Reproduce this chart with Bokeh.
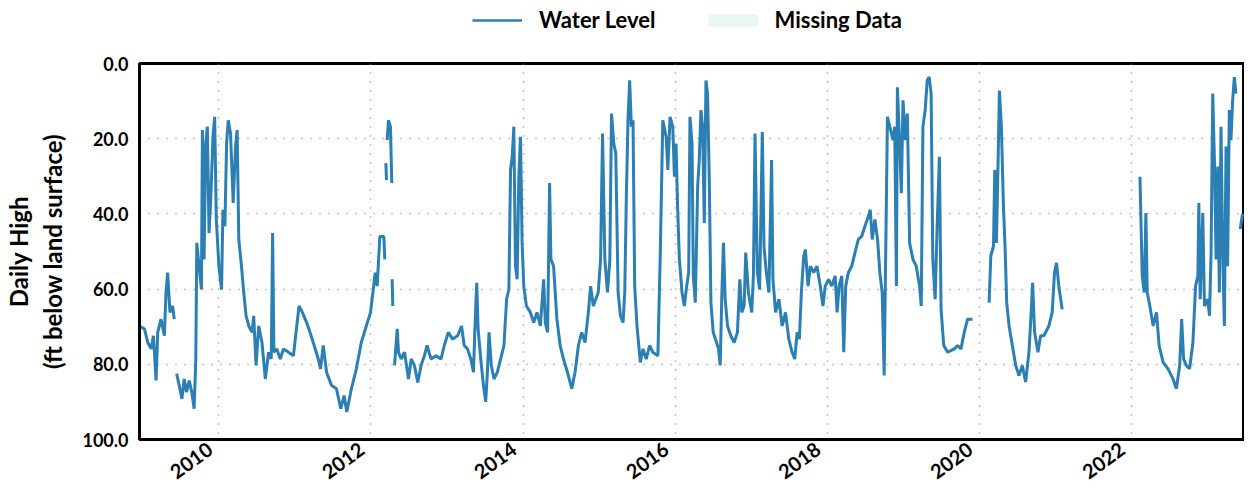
import math
import numpy as np
import pandas as pd
from bokeh.plotting import figure
from bokeh.layouts import column
from bokeh.models import (Range1d, FixedTicker, DatetimeTickFormatter, PrintfTickFormatter,
                          Legend, LegendItem)
from bokeh.embed import file_html
from bokeh.resources import INLINE

NAN = float("nan")

# ---- data (decimal year, ft below land surface) ----
level_year = [
    2008.954, 2009.019, 2009.063, 2009.107, 2009.137, 2009.172, 2009.194, 2009.237, 2009.281, 2009.303,
    2009.324, 2009.355, 2009.390, 2009.411, 2009.425, 2009.442, 2009.477, 2009.512, 2009.542, 2009.573,
    2009.608, 2009.642, 2009.673, 2009.695, 2009.708, 2009.738, 2009.769, 2009.782, 2009.804, 2009.825,
    2009.847, 2009.869, 2009.891, 2009.921, 2009.943, 2009.965, 2009.999, 2010.034, 2010.052, 2010.078,
    2010.100, 2010.122, 2010.152, 2010.187, 2010.218, 2010.239, 2010.261, 2010.296, 2010.326, 2010.357,
    2010.392, 2010.435, 2010.457, 2010.488, 2010.523, 2010.566, 2010.610, 2010.653, 2010.688, 2010.706,
    2010.723, 2010.762, 2010.806, 2010.849, 2010.915, 2010.980, 2011.024, 2011.054, 2011.098, 2011.154,
    2011.198, 2011.241, 2011.307, 2011.337, 2011.372, 2011.416, 2011.481, 2011.546, 2011.603, 2011.647,
    2011.682, 2011.743, 2011.808, 2011.873, 2011.939, 2011.995, 2012.026, 2012.056, 2012.082, 2012.117,
    2012.169, 2012.182, 2012.189, 2012.196, 2012.204, 2012.208, 2012.213, 2012.230, 2012.256, 2012.274,
    2012.276, 2012.278, 2012.287, 2012.298, 2012.310, 2012.345, 2012.362, 2012.397, 2012.441, 2012.493,
    2012.528, 2012.571, 2012.615, 2012.658, 2012.702, 2012.737, 2012.789, 2012.854, 2012.920, 2012.963,
    2013.016, 2013.072, 2013.138, 2013.190, 2013.225, 2013.268, 2013.312, 2013.347, 2013.364, 2013.390,
    2013.408, 2013.443, 2013.478, 2013.508, 2013.530, 2013.552, 2013.582, 2013.617, 2013.661, 2013.704,
    2013.748, 2013.783, 2013.813, 2013.835, 2013.857, 2013.878, 2013.900, 2013.922, 2013.944, 2013.966,
    2013.987, 2014.009, 2014.044, 2014.096, 2014.140, 2014.183, 2014.227, 2014.271, 2014.292, 2014.323,
    2014.349, 2014.366, 2014.401, 2014.423, 2014.445, 2014.488, 2014.532, 2014.584, 2014.641, 2014.684,
    2014.728, 2014.772, 2014.815, 2014.859, 2014.889, 2014.924, 2014.989, 2015.020, 2015.046, 2015.076,
    2015.111, 2015.142, 2015.164, 2015.194, 2015.220, 2015.251, 2015.281, 2015.316, 2015.338, 2015.360,
    2015.382, 2015.403, 2015.425, 2015.447, 2015.469, 2015.499, 2015.543, 2015.578, 2015.621, 2015.665,
    2015.708, 2015.774, 2015.804, 2015.839, 2015.883, 2015.905, 2015.935, 2015.970, 2015.992, 2016.013,
    2016.035, 2016.057, 2016.092, 2016.122, 2016.153, 2016.179, 2016.196, 2016.223, 2016.240, 2016.266,
    2016.297, 2016.318, 2016.340, 2016.362, 2016.384, 2016.406, 2016.427, 2016.449, 2016.471, 2016.501,
    2016.545, 2016.571, 2016.593, 2016.615, 2016.636, 2016.658, 2016.689, 2016.732, 2016.776, 2016.819,
    2016.850, 2016.876, 2016.907, 2016.928, 2016.963, 2017.007, 2017.029, 2017.050, 2017.081, 2017.111,
    2017.146, 2017.168, 2017.199, 2017.233, 2017.268, 2017.286, 2017.321, 2017.364, 2017.408, 2017.451,
    2017.495, 2017.538, 2017.573, 2017.604, 2017.634, 2017.660, 2017.691, 2017.713, 2017.748, 2017.778,
    2017.822, 2017.865, 2017.909, 2017.944, 2017.974, 2018.018, 2018.061, 2018.105, 2018.131, 2018.157,
    2018.192, 2018.218, 2018.244, 2018.279, 2018.323, 2018.366, 2018.410, 2018.453, 2018.497, 2018.541,
    2018.567, 2018.593, 2018.628, 2018.663, 2018.693, 2018.724, 2018.750, 2018.767, 2018.793, 2018.824,
    2018.867, 2018.889, 2018.911, 2018.924, 2018.954, 2018.976, 2018.998, 2019.029, 2019.055, 2019.085,
    2019.129, 2019.172, 2019.216, 2019.238, 2019.260, 2019.290, 2019.316, 2019.342, 2019.368, 2019.390,
    2019.421, 2019.447, 2019.477, 2019.499, 2019.534, 2019.586, 2019.673, 2019.717, 2019.761, 2019.804,
    2019.848, 2019.913, 2020.000, 2020.131, 2020.153, 2020.188, 2020.205, 2020.227, 2020.249, 2020.266,
    2020.292, 2020.319, 2020.340, 2020.362, 2020.393, 2020.436, 2020.480, 2020.523, 2020.567, 2020.610,
    2020.654, 2020.685, 2020.702, 2020.728, 2020.772, 2020.807, 2020.850, 2020.915, 2020.959, 2020.989,
    2021.016, 2021.046, 2021.090, 2021.500, 2022.114, 2022.144, 2022.170, 2022.192, 2022.210, 2022.244,
    2022.288, 2022.332, 2022.366, 2022.419, 2022.484, 2022.549, 2022.593, 2022.637, 2022.663, 2022.689,
    2022.724, 2022.767, 2022.811, 2022.846, 2022.876, 2022.889, 2022.907, 2022.941, 2022.963, 2023.007,
    2023.029, 2023.050, 2023.072, 2023.094, 2023.116, 2023.138, 2023.159, 2023.181, 2023.203, 2023.225,
    2023.247, 2023.268, 2023.290, 2023.312, 2023.334, 2023.356, 2023.377, 2023.405, 2023.434, 2023.464,
]
level_ft = [
    69.8, 70.6, 74.2, 75.9, 72.4, 84.3, 71.5, 68.0, 72.4, 60.9,
    55.6, 66.2, 64.5, 68.0, NAN, 82.5, 85.6, 89.2, 83.9, 87.4,
    84.3, 87.4, 91.8, 78.6, 47.7, 53.9, 60.1, 17.7, 52.1, 21.3,
    16.8, 45.1, 36.2, 19.5, 14.2, 41.5, 53.9, 60.1, 38.9, 43.3,
    21.3, 15.1, 18.6, 37.1, 22.1, 17.7, 46.8, 53.9, 60.9, 67.1,
    69.8, 71.5, 67.1, 80.3, 69.8, 74.2, 83.9, 76.8, 78.6, 45.1,
    76.8, 75.9, 78.6, 75.9, 76.8, 77.7, 69.8, 64.5, 66.2, 68.9,
    71.5, 74.2, 78.6, 81.2, 75.0, 82.1, 85.6, 86.5, 91.8, 88.3,
    92.7, 86.5, 81.2, 74.2, 69.8, 66.2, 60.9, 55.6, 59.2, 46.0,
    46.0, 52.1, NAN, 26.5, 31.0, NAN, 20.4, 15.1, 16.8, 31.8,
    NAN, 57.4, 64.5, NAN, 80.3, 70.6, 76.8, 78.6, 76.8, 83.9,
    78.6, 80.3, 84.8, 80.3, 77.7, 75.0, 78.6, 77.7, 78.6, 75.0,
    71.5, 73.3, 72.4, 69.8, 75.0, 75.9, 78.6, 82.1, 71.5, 58.3,
    70.6, 78.6, 85.6, 90.0, 82.1, 71.5, 80.3, 83.9, 82.1, 78.6,
    75.0, 62.7, 60.1, 28.3, 24.8, 16.8, 53.9, 57.4, 30.1, 19.5,
    47.7, 59.2, 64.5, 66.2, 68.9, 66.2, 69.8, 57.4, 68.9, 71.5,
    31.8, 52.1, 53.9, 60.9, 68.0, 75.0, 78.6, 82.1, 86.5, 82.1,
    75.0, 71.5, 74.2, 66.2, 59.2, 64.5, 60.9, 52.1, 18.6, 52.1,
    60.9, 52.1, 13.3, 21.3, 23.9, 60.9, 67.1, 68.9, 60.9, 34.5,
    14.2, 4.5, 16.8, 15.1, 59.2, 69.8, 79.5, 75.9, 78.6, 75.0,
    76.8, 77.7, 52.1, 15.1, 19.5, 28.3, 14.2, 16.8, 30.1, 21.3,
    38.9, 52.1, 60.9, 64.5, 59.2, 55.6, 14.2, 21.3, 56.5, 63.6,
    32.7, 25.7, 12.4, 16.8, 42.4, 4.5, 8.0, 30.1, 63.6, 71.5,
    74.2, 75.9, 80.3, 60.9, 47.7, 62.7, 69.8, 72.4, 74.2, 71.5,
    57.4, 66.2, 64.5, 50.3, 60.9, 66.2, 56.5, 18.6, 55.6, 60.1,
    18.2, 48.6, 55.6, 60.9, 25.7, 57.4, 66.2, 62.7, 69.8, 66.2,
    73.3, 76.8, 78.6, 71.5, 73.3, 60.9, 51.2, 49.5, 59.2, 53.9,
    55.6, 53.9, 59.2, 64.5, 59.2, 57.4, 59.2, 56.5, 66.2, 59.2,
    56.5, 76.8, 59.2, 55.6, 53.9, 50.3, 46.8, 46.0, 43.3, 40.7,
    38.9, 46.8, 41.5, 46.8, 55.6, 60.9, 83.0, 55.6, 14.2, 16.8,
    20.4, 16.8, 59.2, 6.3, 21.3, 34.5, 9.8, 20.4, 13.3, 47.7,
    52.1, 53.9, 59.2, 64.5, 16.8, 12.4, 4.5, 3.6, 8.0, 52.1,
    62.7, 43.3, 24.8, 65.4, 75.0, 76.8, 75.9, 75.0, 75.9, 71.5,
    68.0, 68.0, NAN, 63.6, 51.2, 48.6, 28.3, 47.7, 25.7, 7.2,
    16.8, 38.0, 48.6, 63.6, 69.8, 75.0, 80.3, 83.0, 80.3, 84.7,
    76.8, 65.4, 58.3, 71.5, 76.8, 72.4, 72.4, 69.8, 66.2, 55.6,
    53.0, 59.2, 65.4, NAN, 30.1, 56.5, 60.9, 39.8, 60.9, 64.5,
    69.8, 66.2, 75.0, 79.5, 81.2, 83.9, 86.5, 80.3, 68.0, 78.6,
    80.3, 81.2, 74.2, 59.2, 56.5, 37.1, 62.7, 39.8, 64.5, 62.7,
    67.1, 50.3, 8.0, 25.7, 52.1, 27.4, 60.9, 16.8, 50.3, 69.8,
    22.1, 53.9, 12.4, 20.4, 9.8, 3.6, 8.0, NAN, 44.0, 40.0,
]

series_names = ["Water Level", "Missing Data"]
tick_years = [2010, 2012, 2014, 2016, 2018, 2020, 2022]
y_ticks = [0, 20, 40, 60, 80, 100]
x_window = [2008.954, 2023.49]


def to_dt(y):
    yr = int(math.floor(y))
    a = pd.Timestamp(yr, 1, 1)
    b = pd.Timestamp(yr + 1, 1, 1)
    return a + (b - a) * (y - yr)


dates = [to_dt(v) for v in level_year]
vals = np.array(level_ft, dtype=float)
x_rng = (to_dt(x_window[0]), to_dt(x_window[1]))

FONT = "Lato"
LINE_COLOR = "#2b7fb3"
MISS_COLOR = "#eaf6f3"

# ---------- legend strip (top); its glyphs lie outside its empty y window ----------
leg = figure(width=1244, height=49, x_axis_type="datetime", output_backend="svg",
             toolbar_location=None,
             min_border_left=132, min_border_right=0, min_border_top=0, min_border_bottom=0,
             x_range=Range1d(*x_rng), y_range=Range1d(1000, 2000))
leg.axis.visible = False
leg.grid.visible = False
leg.outline_line_color = None
lw = leg.line(dates, vals, line_color=LINE_COLOR, line_width=2.5)
lm = leg.line(dates, vals, line_color=MISS_COLOR, line_width=12)
legend = Legend(items=[LegendItem(label=series_names[0], renderers=[lw]),
                       LegendItem(label=series_names[1], renderers=[lm])],
                orientation="horizontal", location=(333, 16),
                padding=0, margin=0, spacing=52, label_standoff=17,
                glyph_width=50, glyph_height=20,
                label_text_font=FONT, label_text_font_style="bold",
                label_text_font_size="22px", label_text_color="black",
                border_line_alpha=0, background_fill_alpha=0)
leg.add_layout(legend, "center")

# ---------- main chart ----------
p = figure(width=1244, height=447, x_axis_type="datetime",
           x_range=Range1d(*x_rng), y_range=Range1d(100, 0),
           output_backend="svg", toolbar_location=None,
           min_border_left=132, min_border_right=0, min_border_top=14, min_border_bottom=55)

p.background_fill_color = "white"
p.border_fill_color = "white"
p.outline_line_color = "black"
p.outline_line_width = 3

p.line(dates, vals, line_color=LINE_COLOR, line_width=3)

ms_ticks = [to_dt(y).value / 1e6 for y in tick_years]
p.xaxis.ticker = FixedTicker(ticks=ms_ticks)
yfmt = "%Y\u2007"
p.xaxis.formatter = DatetimeTickFormatter(years=yfmt, months=yfmt, days=yfmt, hours=yfmt,
                                          minutes=yfmt, seconds=yfmt, milliseconds=yfmt,
                                          minsec=yfmt, hourmin=yfmt)
p.xaxis.major_label_orientation = math.radians(36)
p.yaxis.ticker = FixedTicker(ticks=y_ticks)
p.yaxis.formatter = PrintfTickFormatter(format="%.1f")

for ax in (p.xaxis[0], p.yaxis[0]):
    ax.axis_line_color = "black"
    ax.axis_line_width = 3
    ax.major_tick_line_color = None
    ax.minor_tick_line_color = None
    ax.major_tick_out = 0
    ax.major_tick_in = 0
    ax.major_label_text_font = FONT
    ax.major_label_text_font_style = "bold"
    ax.major_label_text_color = "black"

p.xaxis.major_label_text_font_size = "20px"
p.yaxis.major_label_text_font_size = "18px"
p.xaxis.major_label_standoff = 0
p.yaxis.major_label_standoff = 11
p.yaxis.axis_label = "Daily High\n(ft below land surface)"
p.yaxis.axis_label_text_font = FONT
p.yaxis.axis_label_text_font_style = "bold"
p.yaxis.axis_label_text_font_size = "24px"
p.yaxis.axis_label_text_color = "black"
p.yaxis.axis_label_standoff = 12

p.xgrid.grid_line_color = "#8a8a8a"
p.xgrid.grid_line_dash = "1 8"
p.xgrid.grid_line_width = 1.5
p.ygrid.grid_line_color = "#8a8a8a"
p.ygrid.grid_line_dash = "1 8"
p.ygrid.grid_line_width = 1.5

layout = column(leg, p, spacing=0)
open("out.html", "w").write(file_html(layout, INLINE))
